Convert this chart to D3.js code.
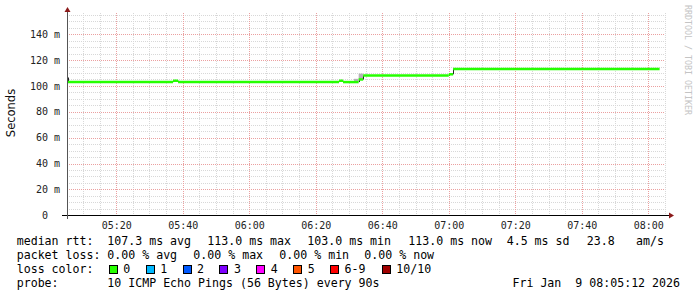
<!DOCTYPE html>
<html>
<head>
<meta charset="utf-8">
<script src="https://cdn.jsdelivr.net/npm/d3@7"></script>
<style>
  html, body { margin: 0; padding: 0; background: #fff; }
  svg text { white-space: pre; }
</style>
</head>
<body>
<div id="chart"></div>
<script>
// median rtt as steps: value holds from stepTimes[i] to stepTimes[i+1]
const stepTimes = ["05:05:12", "05:05:30", "05:37:06", "05:38:36", "06:27:00", "06:28:12",
                   "06:32:54", "06:34:15", "07:00:00", "07:01:18", "08:03:24"];
const stepValues = [106.5, 103.0, 104.0, 103.0, 104.0, 103.0, 105.0, 108.0, 109.0, 113.0];

// smoke (spread of the pings)
const smokeStart = ["06:31:30", "06:32:54"];
const smokeEnd = ["06:32:54", "06:34:15"];
const smokeLow = [103.0, 105.0];
const smokeHigh = [105.5, 109.5];

const yTicks = [0, 20, 40, 60, 80, 100, 120, 140];

const legendRtt = [["median rtt:", 16.7], ["107.3 ms avg", 107.3], ["113.0 ms max", 207.3],
  ["103.0 ms min", 307.3], ["113.0 ms now", 408.3], ["4.5 ms sd", 506.7], ["23.8", 586.7], ["am/s", 636]];
const legendLoss = [["packet loss:", 16.7], ["0.00 % avg", 107.3], ["0.00 % max", 193.3],
  ["0.00 % min", 279.3], ["0.00 % now", 364.3]];
const lossLabels = ["0", "1", "2", "3", "4", "5", "6-9", "10/10"];
const lossColors = ["#26ff00", "#00b8ff", "#0059ff", "#7e00ff", "#ff00ff", "#ff5500", "#ff0000", "#a00000"];
const lossBoxX = [108.7, 145.6, 182.5, 219.3, 256.2, 293.1, 330, 381.7];
const probeText = "10 ICMP Echo Pings (56 Bytes) every 90s";
const dateText = "Fri Jan  9 08:05:12 2026";

const width = 697, height = 297;
const parse = t => d3.utcParse("%Y-%m-%d %H:%M:%S")("2026-01-09 " + t);

const x = d3.scaleUtc()
  .domain([parse("05:05:12"), parse("08:05:12")])
  .range([67, 665.6]);
const y = d3.scaleLinear().domain([0, 157]).range([215.3, 12.2]);

const svg = d3.select("#chart").append("svg")
  .attr("width", width).attr("height", height)
  .style("font-family", "'DejaVu Sans Mono', monospace");

svg.append("rect").attr("width", width).attr("height", height).attr("fill", "#fff");

const plotTop = 12.5, plotBottom = 215, plotLeft = 67, plotRight = 665;

// grid
const grid = svg.append("g").attr("shape-rendering", "crispEdges");
const minorX = d3.utcMinute.every(5).range(x.domain()[0], x.domain()[1]);
const majorX = d3.utcMinute.every(20).range(x.domain()[0], x.domain()[1]);
const isMajor = d => d.getUTCMinutes() % 20 === 0;

grid.selectAll(".vminor").data(minorX.filter(d => !isMajor(d))).join("line")
  .attr("x1", d => Math.round(x(d)) + 0.5).attr("x2", d => Math.round(x(d)) + 0.5)
  .attr("y1", plotTop).attr("y2", plotBottom)
  .attr("stroke", "#d8d8d8").attr("stroke-dasharray", "1,1");

const minorY = d3.range(5, 157, 5).filter(v => v % 20 !== 0);
grid.selectAll(".hminor").data(minorY).join("line")
  .attr("x1", plotLeft).attr("x2", plotRight)
  .attr("y1", d => Math.round(y(d)) + 0.5).attr("y2", d => Math.round(y(d)) + 0.5)
  .attr("stroke", "#d8d8d8").attr("stroke-dasharray", "1,1");

grid.selectAll(".vmajor").data(majorX).join("line")
  .attr("x1", d => Math.round(x(d)) + 0.5).attr("x2", d => Math.round(x(d)) + 0.5)
  .attr("y1", plotTop).attr("y2", plotBottom)
  .attr("stroke", "#eba0a0").attr("stroke-dasharray", "1,1");

grid.selectAll(".hmajor").data(yTicks.filter(v => v > 0)).join("line")
  .attr("x1", plotLeft).attr("x2", plotRight)
  .attr("y1", d => Math.round(y(d)) + 0.5).attr("y2", d => Math.round(y(d)) + 0.5)
  .attr("stroke", "#eba0a0").attr("stroke-dasharray", "1,1");

// smoke
svg.append("g").selectAll("rect").data(smokeStart).join("rect")
  .attr("x", (d, i) => x(parse(d)))
  .attr("width", (d, i) => x(parse(smokeEnd[i])) - x(parse(d)))
  .attr("y", (d, i) => y(smokeHigh[i]))
  .attr("height", (d, i) => y(smokeLow[i]) - y(smokeHigh[i]))
  .attr("fill", "#b4b4b4");

// median: dark joins, then green segments
const steps = stepValues.map((v, i) => ({ t0: parse(stepTimes[i]), t1: parse(stepTimes[i + 1]), v }));
const joins = steps.slice(1).map((s, i) => ({ t: s.t0, a: steps[i].v, b: s.v }));
svg.append("g").selectAll("line").data(joins).join("line")
  .attr("x1", d => Math.round(x(d.t)) + 0.5).attr("x2", d => Math.round(x(d.t)) + 0.5)
  .attr("y1", d => y(d.a)).attr("y2", d => y(d.b))
  .attr("stroke", "#222").attr("stroke-width", 1);

svg.append("g").selectAll("line").data(steps).join("line")
  .attr("x1", d => x(d.t0)).attr("x2", d => x(d.t1))
  .attr("y1", d => y(d.v)).attr("y2", d => y(d.v))
  .attr("stroke", lossColors[0]).attr("stroke-width", 2.5);

// axes
const axes = svg.append("g").attr("shape-rendering", "crispEdges");
axes.append("line").attr("x1", 62).attr("x2", 669).attr("y1", 215.5).attr("y2", 215.5)
  .attr("stroke", "#000");
axes.append("line").attr("x1", 67.5).attr("x2", 67.5).attr("y1", 219).attr("y2", 11)
  .attr("stroke", "#555");
svg.append("path").attr("d", "M669,212.5 L674,215.5 L669,218.5 Z").attr("fill", "#8b1a1a");
svg.append("path").attr("d", "M64.5,12 L67.5,7 L70.5,12 Z").attr("fill", "#8b1a1a");

// tick labels
svg.append("g").selectAll("text").data(yTicks).join("text")
  .attr("x", d => d === 0 ? 48 : 60)
  .attr("y", d => y(d) + 3.6)
  .attr("text-anchor", "end")
  .attr("font-size", 10).attr("fill", "#222")
  .text(d => d === 0 ? "0" : d + " m");

svg.append("g").selectAll("text").data(majorX).join("text")
  .attr("x", d => x(d) + 0.5).attr("y", 228.5)
  .attr("text-anchor", "middle")
  .attr("font-size", 10).attr("fill", "#222")
  .text(d3.utcFormat("%H:%M"));

svg.append("text")
  .attr("transform", "translate(14.5,113) rotate(-90)")
  .attr("text-anchor", "middle")
  .style("font-family", "'DejaVu Sans', sans-serif")
  .attr("font-size", 11.5).attr("fill", "#111")
  .text("Seconds");

svg.append("text")
  .attr("transform", "translate(684.5,5) rotate(90)")
  .attr("font-size", 8.3).attr("fill", "#c4c4c4")
  .text("RRDTOOL / TOBI OETIKER");

// legend
const fs = 11.6;
const lg = svg.append("g").attr("font-size", fs).attr("fill", "#000");
lg.selectAll(".r1").data(legendRtt).join("text")
  .attr("x", d => d[1]).attr("y", 245).text(d => d[0]);
lg.selectAll(".r2").data(legendLoss).join("text")
  .attr("x", d => d[1]).attr("y", 259).text(d => d[0]);
lg.append("text").attr("x", 16.7).attr("y", 273).text("loss color:");
lg.selectAll("rect").data(lossLabels).join("rect")
  .attr("x", (d, i) => lossBoxX[i] + 0.5).attr("y", 265.5)
  .attr("width", 8).attr("height", 8)
  .attr("fill", (d, i) => lossColors[i]).attr("stroke", "#000").attr("stroke-width", 1)
  .attr("shape-rendering", "crispEdges");
lg.selectAll(".lc").data(lossLabels).join("text")
  .attr("x", (d, i) => lossBoxX[i] + 14.6).attr("y", 273).text(d => d);
lg.append("text").attr("x", 16.7).attr("y", 287).text("probe:");
lg.append("text").attr("x", 107.3).attr("y", 287).text(probeText);
lg.append("text").attr("x", 680).attr("y", 287).attr("text-anchor", "end").text(dateText);
</script>
</body>
</html>
